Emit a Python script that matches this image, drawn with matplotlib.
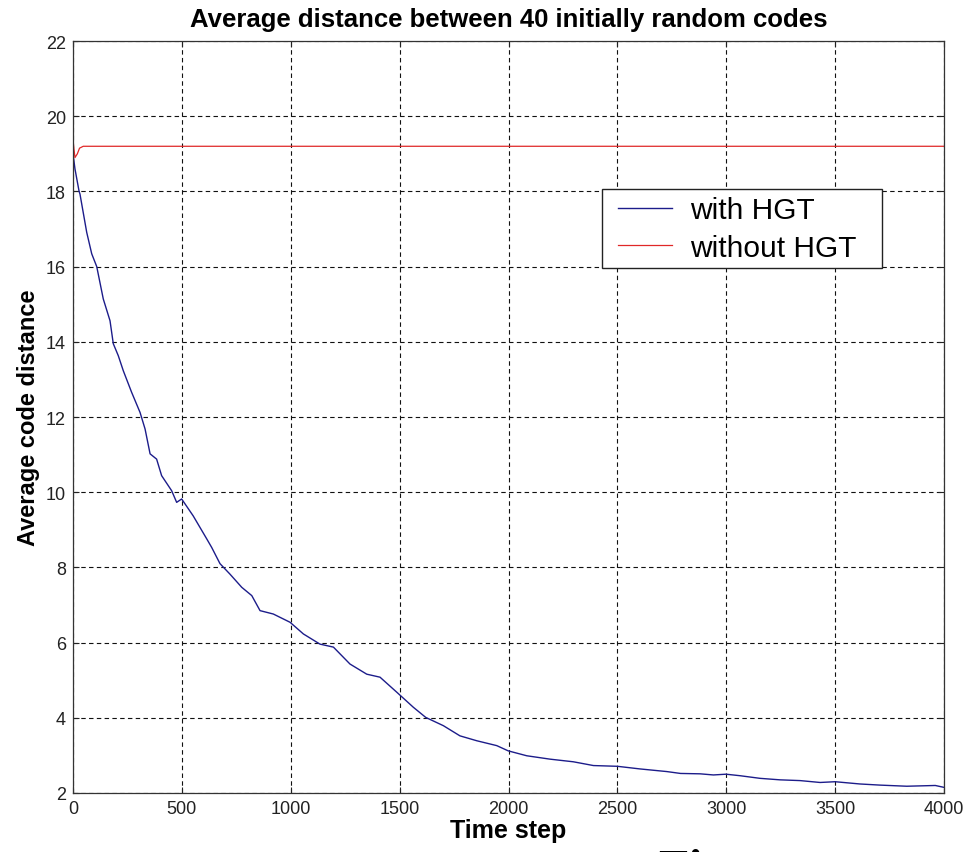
import numpy as np
import matplotlib.pyplot as plt
from matplotlib.patches import Rectangle

# values
steps_hgt = [0, 9, 28, 32, 63, 86, 109, 139, 170, 185, 208, 231, 269, 308, 331,
             354, 384, 407, 453, 476, 499, 552, 614, 637, 675, 721, 775, 821,
             859, 920, 997, 1058, 1134, 1196, 1272, 1349, 1410, 1487, 1563,
             1620, 1701, 1777, 1854, 1946, 1999, 2084, 2191, 2298, 2390, 2500,
             2604, 2727, 2790, 2880, 2941, 2999, 3063, 3155, 3247, 3339, 3431,
             3500, 3614, 3706, 3829, 3960, 4000]
dist_hgt = [19.0, 18.6, 18.0, 17.93, 16.91, 16.34, 16.0, 15.14, 14.56, 13.95,
            13.63, 13.23, 12.66, 12.12, 11.68, 11.02, 10.88, 10.44, 10.04, 9.73,
            9.82, 9.37, 8.76, 8.53, 8.1, 7.82, 7.47, 7.25, 6.85, 6.76, 6.54,
            6.23, 5.96, 5.88, 5.43, 5.16, 5.08, 4.68, 4.28, 4.01, 3.79, 3.52,
            3.39, 3.26, 3.12, 2.99, 2.90, 2.83, 2.73, 2.71, 2.64, 2.57, 2.52,
            2.51, 2.48, 2.5, 2.46, 2.39, 2.35, 2.33, 2.28, 2.30, 2.24, 2.21,
            2.18, 2.2, 2.15]

steps_no_hgt = [0, 1, 9, 20, 30, 47, 4000]
dist_no_hgt = [19.7, 19.3, 18.9, 19.0, 19.15, 19.2, 19.2]

x_ticks = [0, 500, 1000, 1500, 2000, 2500, 3000, 3500, 4000]
y_ticks = [2, 4, 6, 8, 10, 12, 14, 16, 18, 20, 22]

plt.rcParams['font.family'] = ['Liberation Sans', 'DejaVu Sans']

fig = plt.figure(figsize=(9.63, 8.53), dpi=100)
ax = fig.add_axes([73 / 963, 1 - 794 / 853, 871 / 963, 752 / 853])

ax.plot(steps_hgt, dist_hgt, color='#1c1c8a', lw=1.0, label='with HGT')
ax.plot(steps_no_hgt, dist_no_hgt, color='#e02828', lw=0.9, label='without HGT')

ax.set_xlim(0, 4000)
ax.set_ylim(2, 22)
ax.set_xticks(x_ticks)
ax.set_yticks(y_ticks)
ax.tick_params(direction='in', length=4.5, width=0.8, top=True, right=True,
               labelsize=13, pad=5, colors='#222222')
ax.grid(True, color='#111111', lw=0.8, linestyle=(0, (4, 3)))
for s in ax.spines.values():
    s.set_linewidth(0.9)
    s.set_color('#333333')

ax.set_title('Average distance between 40 initially random codes',
             fontsize=18.5, fontweight='bold', pad=11)
ax.set_xlabel('Time step', fontsize=18, fontweight='bold', labelpad=1)
ax.set_ylabel('Average code distance', fontsize=17, fontweight='bold', labelpad=4)

# legend box is wider than the entries, matlab style
ax.add_patch(Rectangle((0.607, 0.698), 0.322, 0.105, transform=ax.transAxes,
                       facecolor='white', edgecolor='#222222', lw=1.0, zorder=4.9))
leg = ax.legend(loc='center left', bbox_to_anchor=(0.6257, 0.750), fontsize=21.5,
                frameon=False, handlelength=1.8, handletextpad=0.6,
                labelspacing=0.32, borderpad=0, borderaxespad=0)

# cropped caption peeking in at the bottom edge
fig.text(658 / 963, 1 - 849 / 853, 'Fi', fontsize=36, fontweight='bold',
         family='Liberation Serif', va='top', ha='left')

fig.savefig('out.png', dpi=100)
